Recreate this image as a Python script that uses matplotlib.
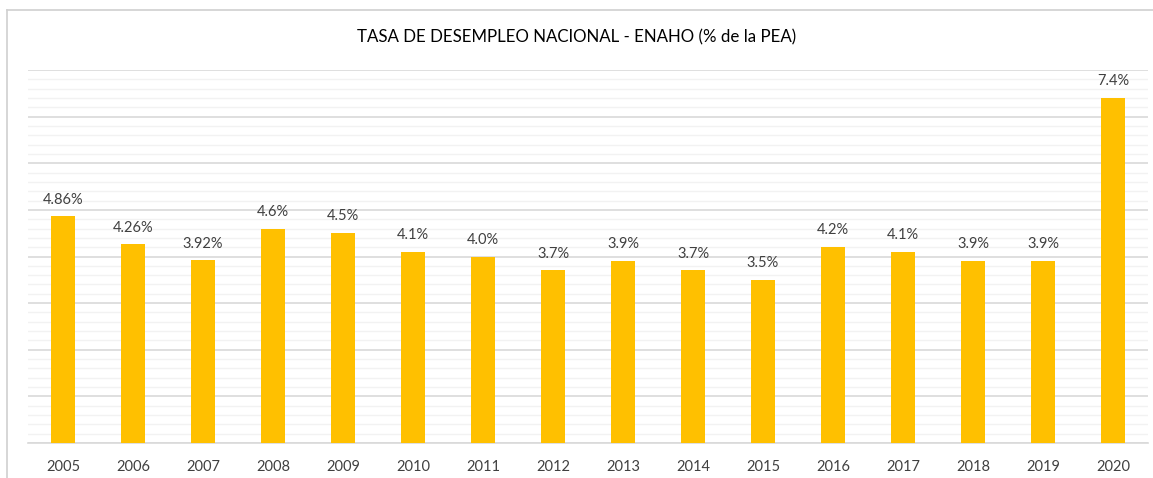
import numpy as np
import matplotlib
matplotlib.use("Agg")
import matplotlib.pyplot as plt
from matplotlib.lines import Line2D

years = ["2005", "2006", "2007", "2008", "2009", "2010", "2011", "2012",
         "2013", "2014", "2015", "2016", "2017", "2018", "2019", "2020"]
rates = [4.86, 4.26, 3.92, 4.6, 4.5, 4.1, 4.0, 3.7,
         3.9, 3.7, 3.5, 4.2, 4.1, 3.9, 3.9, 7.4]
labels = ["4.86%", "4.26%", "3.92%", "4.6%", "4.5%", "4.1%", "4.0%", "3.7%",
          "3.9%", "3.7%", "3.5%", "4.2%", "4.1%", "3.9%", "3.9%", "7.4%"]

plt.rcParams['font.family'] = ['Lato', 'DejaVu Sans']

W, H = 1153, 478
fig = plt.figure(figsize=(W / 100, H / 100), dpi=100)
ax = fig.add_axes([28 / W, 35 / H, 1120 / W, 373 / H])

x = np.arange(len(years))
ax.bar(x, rates, width=0.33, color="#FFC000", zorder=3)

for xi, v, lab in zip(x, rates, labels):
    ax.annotate(lab, (xi, v), xytext=(0, 7), textcoords="offset points",
                ha="center", va="bottom", fontsize=10.5, color="#404040")

ax.set_xlim(-0.5, len(years) - 0.5)
ax.set_ylim(0, 8)
ax.set_yticks(np.arange(0, 8.01, 1))
ax.set_yticks(np.arange(0, 8.01, 0.2), minor=True)
ax.grid(axis="y", which="major", color="#D9D9D9", linewidth=1.2, zorder=0)
ax.grid(axis="y", which="minor", color="#F2F2F2", linewidth=1.0, zorder=0)
ax.tick_params(axis="y", which="both", left=False, labelleft=False)
ax.set_xticks(x)
ax.set_xticklabels(years, fontsize=10.5, color="#404040")
ax.tick_params(axis="x", length=0, pad=12)
for s in ["top", "right", "left"]:
    ax.spines[s].set_visible(False)
ax.spines["bottom"].set_color("#D9D9D9")
ax.spines["bottom"].set_linewidth(1.2)

fig.text(0.5, 1 - 37 / H, "TASA DE DESEMPLEO NACIONAL - ENAHO (% de la PEA)",
         ha="center", va="center", fontsize=12.2, color="#000000")

# chart frame (cropped)
fig.add_artist(Line2D([7 / W, 7 / W], [0, 1 - 10 / H], transform=fig.transFigure,
                      color="#D0D0D0", linewidth=1.2))
fig.add_artist(Line2D([7 / W, 1], [1 - 10 / H, 1 - 10 / H], transform=fig.transFigure,
                      color="#D0D0D0", linewidth=1.2))

fig.savefig("out.png", dpi=100)
